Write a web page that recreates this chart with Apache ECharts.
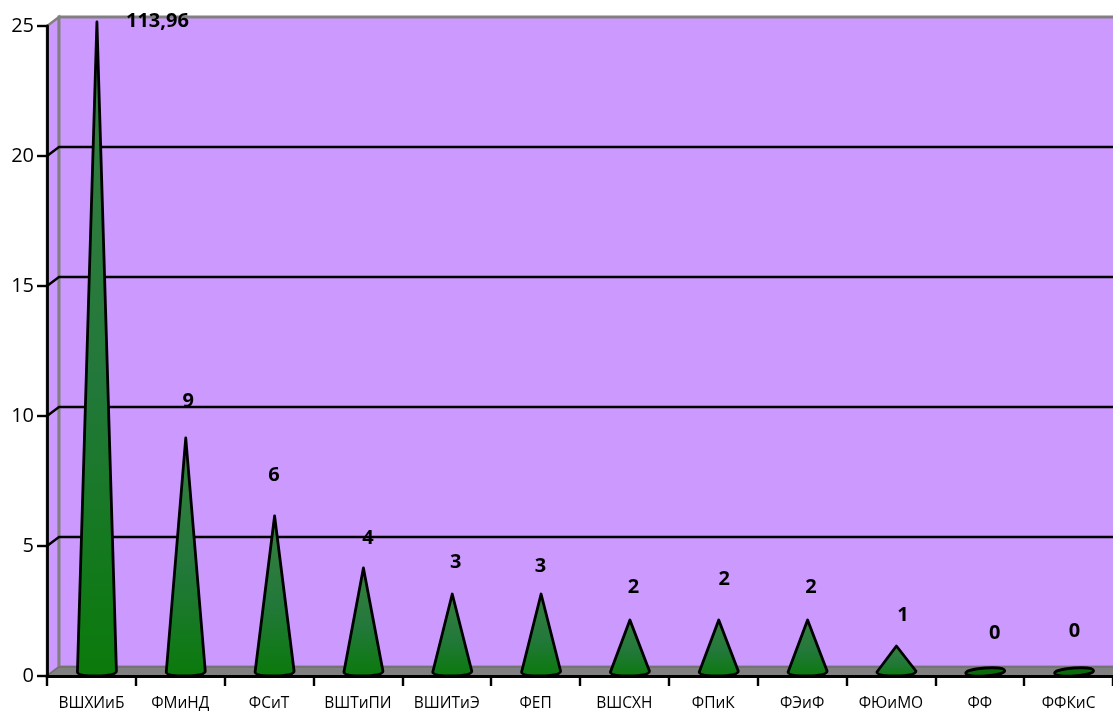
<!DOCTYPE html>
<html><head><meta charset="utf-8">
<style>html,body{margin:0;padding:0;background:#fff}#c{width:1113px;height:713px}</style>
<script src="https://cdn.jsdelivr.net/npm/echarts@6/dist/echarts.min.js"></script>
</head><body><div id="c"></div>
<script>
const categories = ['ВШХИиБ','ФМиНД','ФСиТ','ВШТиПИ','ВШИТиЭ','ФЕП','ВШСХН','ФПиК','ФЭиФ','ФЮиМО','ФФ','ФФКиС'];
const plotted = [25,9,6,4,3,3,2,2,2,1,0,0];
const labels = ['113,96','9','6','4','3','3','2','2','2','1','0','0'];
const yTicks = [0,5,10,15,20,25];
const labelShiftX = [66,8,5,10,9,5,9,11,9,12,15,6];
const labelShiftY = [-5,-41,-45,-34,-36,-32,-37,-45,-37,-35,-43,-45];
const DX=12, DY=-9, CX=5.5, CY=-5, RX=19.5;

const chart = echarts.init(document.getElementById('c'));
function wall(p, api){
  const o=api.coord([0,0]), t=api.coord([0,25]);
  const left=o[0]-api.size([1,0])[0]/2, right=1200;
  const kids=[];
  kids.push({type:'polygon',shape:{points:[[left,o[1]],[left+DX,o[1]+DY],[left+DX,t[1]+DY],[left,t[1]]]},style:{fill:'#cc99ff',stroke:'#808080',lineWidth:2.5}});
  kids.push({type:'rect',shape:{x:left+DX,y:t[1]+DY,width:right,height:o[1]-t[1]},style:{fill:'#cc99ff',stroke:'#808080',lineWidth:3}});
  kids.push({type:'polygon',shape:{points:[[left,o[1]],[left+DX,o[1]+DY],[right,o[1]+DY],[right,o[1]]]},style:{fill:'#808080',stroke:'#666',lineWidth:1}});
  yTicks.forEach(v=>{
    const y=api.coord([0,v])[1];
    if(v>0&&v<25) kids.push({type:'polyline',shape:{points:[[left,y],[left+DX,y+DY],[right,y+DY]]},style:{stroke:'#000',lineWidth:2.4,fill:null}});
  });
  return {type:'group',children:kids};
}
function cone(p, api){
  const c=api.coord([api.value(0),api.value(1)]), b=api.coord([api.value(0),0]);
  const x=c[0]+CX, base=b[1]+CY+1, top=c[1]+CY+1;
  if(api.value(1)===0){
    return {type:'ellipse',shape:{cx:x,cy:base,rx:RX,ry:4},rotation:0.07,originX:x,originY:base,style:{fill:'#0b6b0b',stroke:'#000',lineWidth:2.8}};
  }
  const path=`M${x-RX} ${base}L${x} ${top}L${x+RX} ${base-1}Q${x+RX} ${base+3.5} ${x} ${base+4}Q${x-RX} ${base+4} ${x-RX} ${base}Z`;
  return {type:'path',shape:{pathData:path,x:x-RX,y:top,width:2*RX,height:base+4-top,layout:'center'},
    style:{fill:new echarts.graphic.LinearGradient(0,0,0,1,[{offset:0,color:'#37803f'},{offset:0.55,color:'#22783a'},{offset:1,color:'#0a7a0a'}]),stroke:'#000',lineWidth:2.8,lineJoin:'round'}};
}
function lab(p, api){
  const i=p.dataIndex, c=api.coord([i,api.value(1)]);
  return {type:'text',x:c[0]+labelShiftX[i],y:c[1]+labelShiftY[i],style:{text:labels[i],font:'bold 20px "Open Sans",sans-serif',fill:'#000',align:'center',verticalAlign:'middle'}};
}
chart.setOption({
  animation:false,
  grid:{left:47,top:26,width:1068,height:650,containLabel:false},
  xAxis:{type:'category',data:categories,z:5,
    axisLine:{onZero:true,lineStyle:{color:'#000',width:2.8}},
    axisTick:{show:true,alignWithLabel:false,length:10,lineStyle:{color:'#000',width:2.4}},
    axisLabel:{color:'#000',fontFamily:'"Open Sans",sans-serif',fontSize:15.5,margin:20,interval:0}},
  yAxis:{type:'value',min:0,max:25,interval:5,z:5,
    axisLine:{show:true,lineStyle:{color:'#000',width:2.8}},
    axisTick:{show:true,length:10,lineStyle:{color:'#000',width:2.4}},
    splitLine:{show:false},
    axisLabel:{color:'#000',fontFamily:'"Open Sans",sans-serif',fontSize:20,margin:13}},
  series:[
    {type:'custom',renderItem:wall,data:[0],clip:false,z:1,silent:true},
    {type:'custom',renderItem:cone,data:plotted.map((v,i)=>[i,v]),clip:false,z:2},
    {type:'custom',renderItem:lab,data:plotted.map((v,i)=>[i,v]),clip:false,z:6}
  ]
});
</script></body></html>
